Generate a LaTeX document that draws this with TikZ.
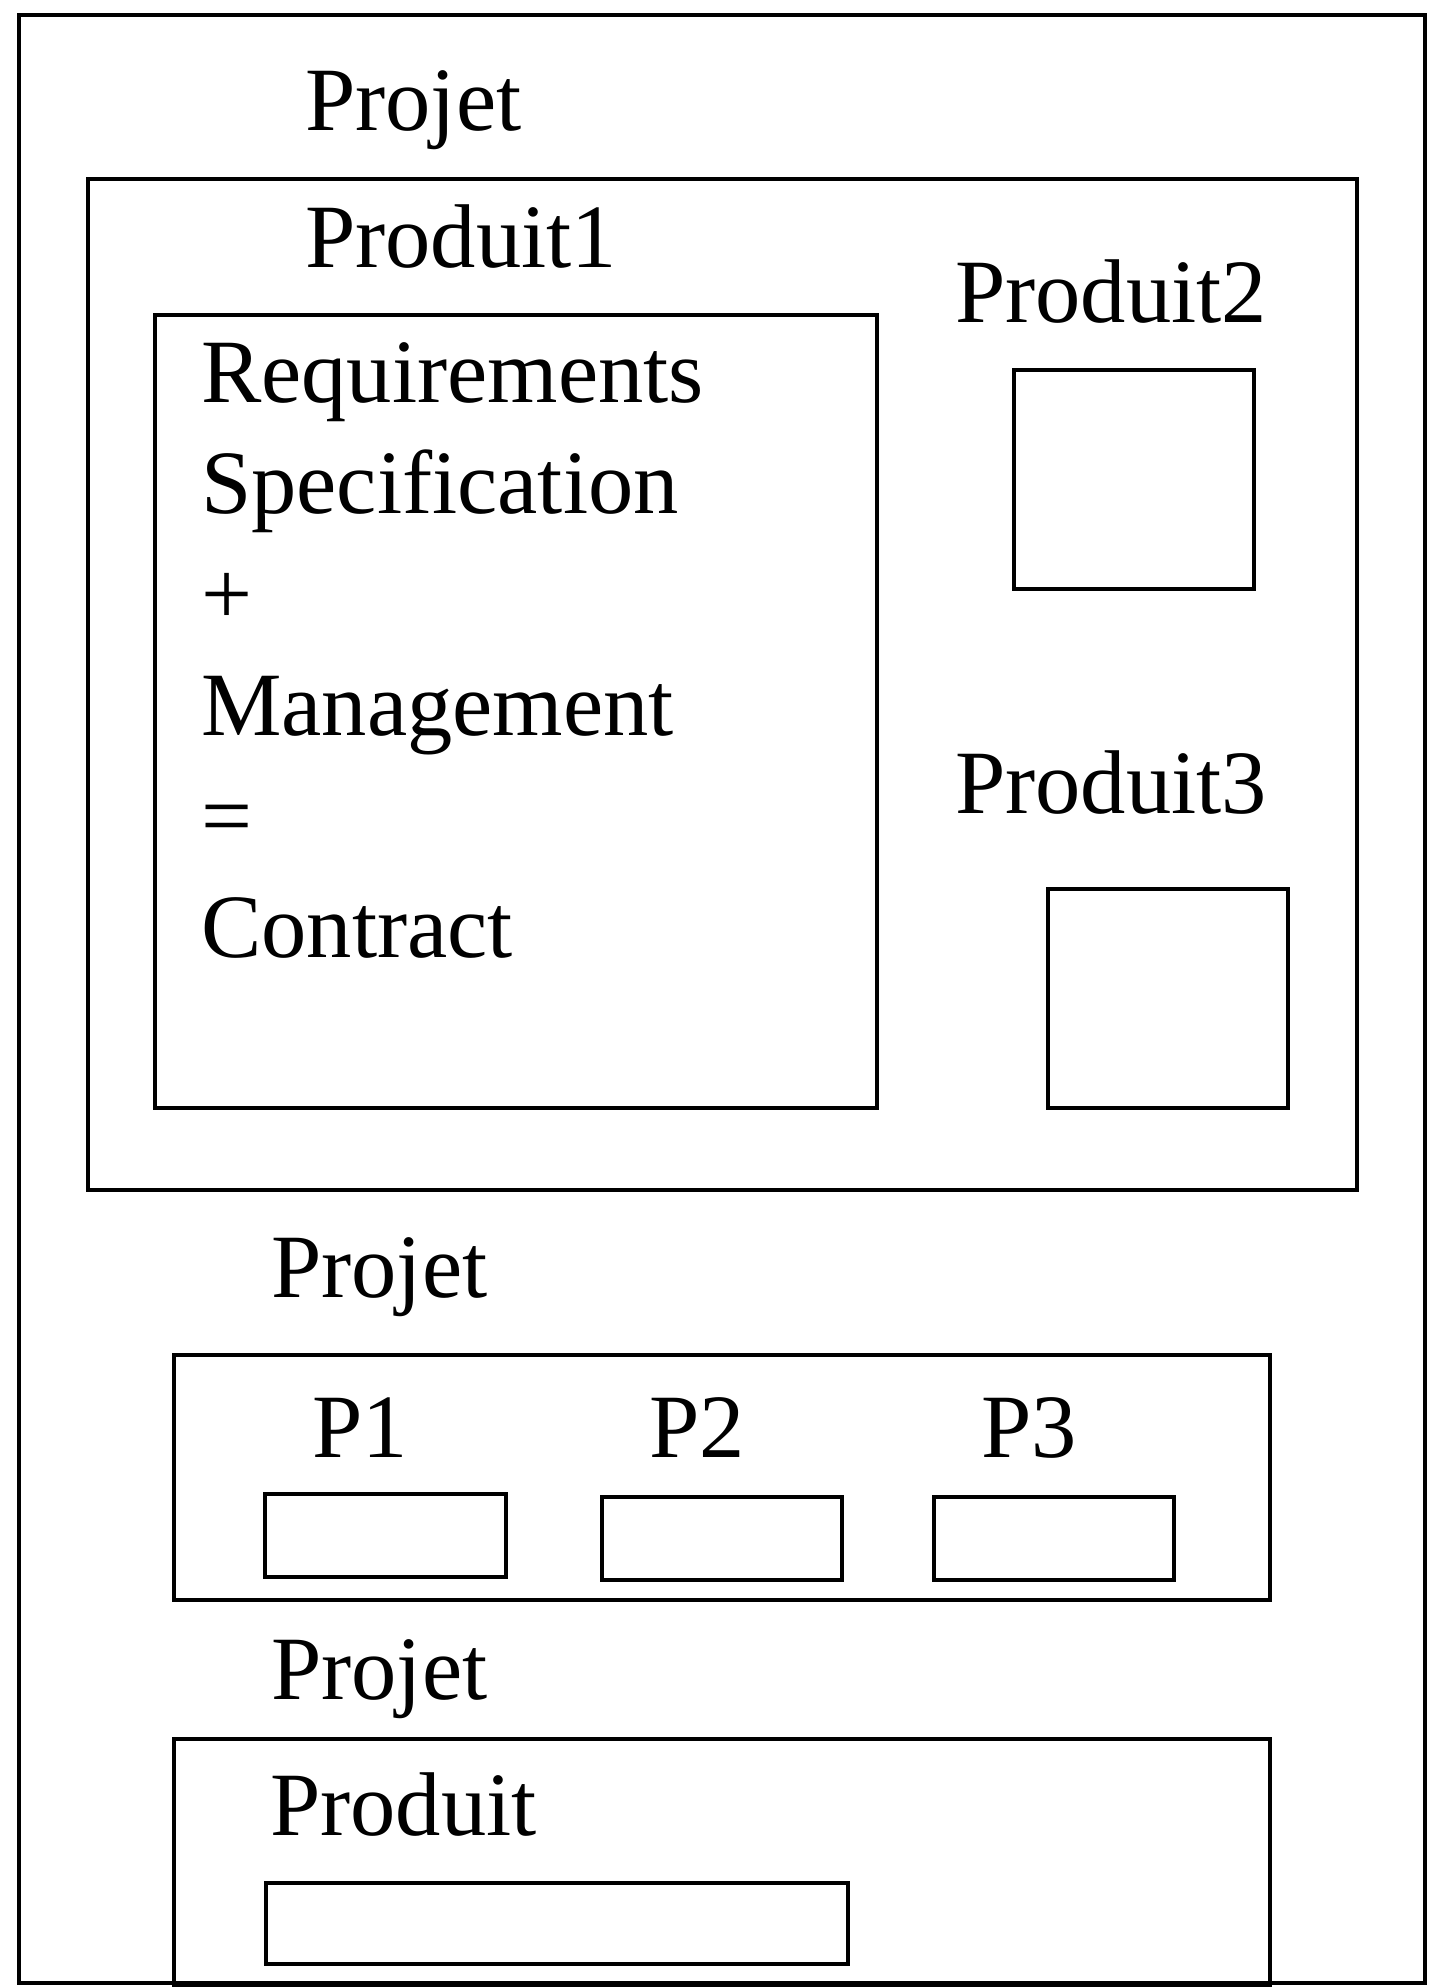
\documentclass[tikz,border=0pt]{standalone}
\usepackage{fontspec}
\setmainfont{Liberation Serif}
\begin{document}
\begin{tikzpicture}[x=1pt,y=-1pt,
  boxline/.style={draw=black,line width=3.4pt},
  lbl/.style={anchor=base west,inner sep=0pt,font=\fontsize{90.5}{108}\selectfont}]
\useasboundingbox (0,0) rectangle (1435,1987);
% outer frame
\draw[boxline] (19,15) rectangle (1425,1983);
% top project
\node[lbl] (projet1) at (305,130) {Projet};
\draw[boxline] (88,179) rectangle (1357,1190);
\node[lbl] (produit1) at (305,267) {Produit1};
\draw[boxline] (155,315) rectangle (877,1108);
\node[lbl] (l1) at (201,402) {Requirements};
\node[lbl] (l2) at (201,513) {Specification};
\node[lbl] (l3) at (201,624) {+};
\node[lbl] (l4) at (201,735) {Management};
\node[lbl] (l5) at (201,846) {=};
\node[lbl] (l6) at (201,957) {Contract};
\node[lbl] (produit2) at (955,322) {Produit2};
\draw[boxline] (1014,370) rectangle (1254,589);
\node[lbl] (produit3) at (955,813) {Produit3};
\draw[boxline] (1048,889) rectangle (1288,1108);
% middle project
\node[lbl] (projet2) at (271,1297) {Projet};
\draw[boxline] (174,1355) rectangle (1270,1600);
\node[lbl] (p1) at (312,1457) {P1};
\node[lbl] (p2) at (649,1457) {P2};
\node[lbl] (p3) at (981,1457) {P3};
\draw[boxline] (265,1494) rectangle (506,1577);
\draw[boxline] (602,1497) rectangle (842,1580);
\draw[boxline] (934,1497) rectangle (1174,1580);
% bottom project
\node[lbl] (projet3) at (271,1699) {Projet};
\draw[boxline] (174,1739) rectangle (1270,1986);
\node[lbl] (produit) at (270,1835) {Produit};
\draw[boxline] (266,1883) rectangle (848,1964);
\end{tikzpicture}
\end{document}
